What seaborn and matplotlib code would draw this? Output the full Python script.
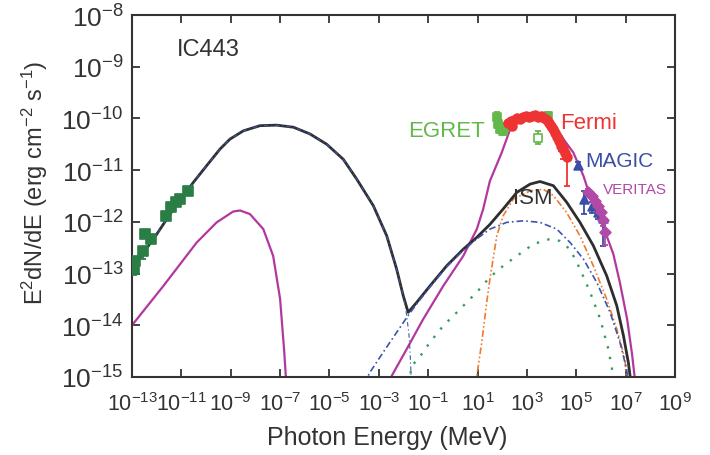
import matplotlib
matplotlib.use("Agg")
import matplotlib.pyplot as plt
import numpy as np
import pandas as pd
import seaborn as sns

# ---------------- data (log10 values) ----------------
# total model: synchrotron + inverse Compton + bremsstrahlung + pi0 (solid dark gray)
total_logE = [-13.00, -12.00, -11.26, -10.52, -9.97, -9.43, -9.03, -8.49, -7.81, -7.14,
              -6.46, -5.79, -5.11, -4.44, -3.90, -3.22, -2.68, -2.28, -2.01, -1.81,
              -1.47, -0.93, -0.25, 0.42, 0.97, 1.50, 2.04, 2.59, 3.13, 3.53,
              4.07, 4.61, 5.15, 5.69, 6.23, 6.64, 6.91, 7.11, 7.18, 7.22]
total_logF = [-12.91, -12.24, -11.71, -11.24, -10.91, -10.59, -10.40, -10.24, -10.14, -10.13,
              -10.17, -10.30, -10.50, -10.79, -11.17, -11.69, -12.27, -12.91, -13.43, -13.75,
              -13.56, -13.24, -12.85, -12.53, -12.30, -12.05, -11.75, -11.43, -11.27, -11.22,
              -11.30, -11.62, -12.01, -12.46, -13.04, -13.62, -14.20, -14.72, -14.98, -15.20]

# synchrotron part of the leptonic component (blue dash-dot)
sync_logE = [-13.00, -12.00, -11.26, -10.52, -9.97, -9.43, -9.03, -8.49, -7.81, -7.14,
             -6.46, -5.79, -5.11, -4.44, -3.90, -3.22, -2.68, -2.28, -2.01, -1.88,
             -1.78, -1.72, -1.68]
sync_logF = [-12.91, -12.24, -11.71, -11.24, -10.91, -10.59, -10.40, -10.24, -10.14, -10.13,
             -10.17, -10.30, -10.50, -10.79, -11.17, -11.69, -12.27, -12.91, -13.43, -13.78,
             -14.17, -14.65, -15.14]

# inverse Compton (blue dash-dot)
ic_logE = [-3.60, -3.36, -2.82, -2.28, -1.87, -1.47, -0.93, -0.25, 0.42, 0.97,
           1.50, 2.18, 2.85, 3.53, 4.21, 4.75, 5.29, 5.83, 6.37, 6.77, 7.04, 7.12]
ic_logF = [-15.14, -14.91, -14.52, -14.14, -13.85, -13.59, -13.26, -12.87, -12.55, -12.33,
           -12.14, -12.01, -11.98, -12.01, -12.14, -12.40, -12.72, -13.17, -13.75, -14.33,
           -14.85, -15.14]

# pi0 decay (orange dash-dot-dot)
pi0_logE = [0.94, 0.97, 1.17, 1.37, 1.50, 1.78, 2.04, 2.45, 3.13, 3.66,
            4.07, 4.61, 5.15, 5.69, 6.23, 6.64, 6.97, 7.05]
pi0_logF = [-15.23, -14.98, -14.33, -13.56, -13.11, -12.27, -11.88, -11.56, -11.40, -11.37,
            -11.49, -11.82, -12.27, -12.85, -13.49, -14.07, -14.65, -15.14]

# bremsstrahlung (green dotted)
brem_logE = [-1.78, -1.67, -1.40, -0.93, -0.39, 0.16, 0.97, 1.50, 2.04, 2.59,
             3.26, 3.94, 4.34, 4.75, 5.15, 5.56, 5.97, 6.30, 6.50, 6.53]
brem_logF = [-15.14, -14.78, -14.65, -14.33, -14.01, -13.75, -13.36, -13.07, -12.85, -12.66,
             -12.43, -12.33, -12.37, -12.53, -12.91, -13.36, -13.88, -14.46, -14.98, -15.14]

# alternative model (magenta solid), low-energy and high-energy humps
mag1_logE = [-13.00, -11.73, -10.38, -9.57, -8.90, -8.62, -8.22, -7.68, -7.28, -7.00,
             -6.84, -6.76, -6.74]
mag1_logF = [-14.00, -13.24, -12.40, -12.01, -11.80, -11.78, -11.85, -12.14, -12.66, -13.49,
             -14.46, -15.04, -15.23]
mag2_logE = [-2.57, -2.48, -1.87, -1.20, -0.39, 0.42, 0.97, 1.23, 1.50, 1.98,
             2.32, 2.64, 3.00, 3.41, 3.81, 4.18, 4.54, 4.88, 5.29, 5.69,
             6.10, 6.50, 6.77, 7.06, 7.26, 7.36, 7.38]
mag2_logF = [-15.23, -14.98, -14.46, -13.88, -13.24, -12.66, -12.14, -11.75, -11.21, -10.66,
             -10.21, -10.03, -9.95, -9.93, -10.01, -10.17, -10.44, -10.66, -11.11, -11.69,
             -12.10, -12.62, -13.18, -13.88, -14.56, -14.98, -15.23]

# radio data (dark green squares)
radio_logE = [-12.92, -12.89, -12.55, -12.49, -12.22, -11.61, -11.42, -11.21, -11.06, -10.73]
radio_logF = [-12.91, -12.76, -12.56, -12.24, -12.33, -11.88, -11.71, -11.62, -11.56, -11.40]
radio_err = [0.12, 0.08, 0.16, 0.05, 0.05, 0.05, 0.05, 0.05, 0.05, 0.05]

# EGRET (light green)
egret_logE = [1.78, 1.84, 1.91, 2.04, 2.11, 3.87]
egret_logF = [-9.98, -10.11, -10.20, -10.24, -10.17, -9.95]
egret_err = [0.10, 0.08, 0.08, 0.08, 0.08, 0.08]
egret_open_logE = [3.46]
egret_open_logF = [-10.37]
egret_open_err = [0.13]

# Fermi (red)
fermi_logE = [2.23, 2.36, 2.40, 2.48, 2.60, 2.72, 2.84, 2.96, 3.09, 3.21, 3.33, 3.45,
              3.57, 3.69, 3.81, 3.90, 3.98, 4.06, 4.14, 4.22, 4.30, 4.38, 4.46, 4.54, 4.62]
fermi_logF = [-10.09, -10.05, -10.15, -10.03, -9.99, -10.01, -9.97, -9.95, -9.97, -9.95,
              -9.93, -9.97, -9.95, -9.99, -10.03, -10.09, -10.15, -10.21, -10.28, -10.36,
              -10.44, -10.53, -10.59, -10.67, -10.75]
fermi_err_lo = [0.04] * 19 + [0.06, 0.07, 0.10, 0.19, 0.12, 0.55]
fermi_err_hi = [0.04] * 19 + [0.06, 0.07, 0.08, 0.10, 0.10, 0.20]

# MAGIC (blue triangles)
magic_logE = [5.08, 5.33, 5.62, 5.87, 6.10]
magic_logF = [-10.90, -11.55, -11.70, -11.80, -11.92]
magic_err_lo = [0.06, 0.30, 0.12, 0.15, 0.55]
magic_err_hi = [0.06, 0.15, 0.08, 0.10, 0.10]

# VERITAS (purple)
veritas_logE = [5.48, 5.64, 5.76, 5.88, 6.00, 6.09, 6.16]
veritas_logF = [-11.42, -11.50, -11.60, -11.69, -11.81, -11.96, -12.20]
veritas_err = [0.06, 0.06, 0.07, 0.08, 0.10, 0.12, 0.25]

# axis ticks
x_tick_exps = [-13, -11, -9, -7, -5, -3, -1, 1, 3, 5, 7, 9]
y_tick_exps = [-15, -14, -13, -12, -11, -10, -9, -8]

# ---------------- style ----------------
sns.set_theme(style="ticks")
plt.rcParams["font.family"] = ["Liberation Sans", "DejaVu Sans"]
plt.rcParams["mathtext.fontset"] = "custom"
plt.rcParams["mathtext.rm"] = "Liberation Sans"
plt.rcParams["mathtext.it"] = "Liberation Sans"
plt.rcParams["mathtext.bf"] = "Liberation Sans:bold"

GRAY = "#333333"
C_TOTAL = "#2e2e2e"
C_MAG = "#b2389f"
C_BLUE = "#3d55b0"
C_ORANGE = "#f07a2e"
C_GREEN = "#3a9a5c"

fig = plt.figure(figsize=(7.10, 4.56), dpi=100)
ax = fig.add_axes([132 / 710, 1 - 378 / 456, 543 / 710, 362 / 456])
ax.set_xscale("log")
ax.set_yscale("log")


def p10(a):
    return np.power(10.0, np.asarray(a, dtype=float))


def curve(le, lf, **kw):
    df = pd.DataFrame({"E": p10(le), "F": p10(lf)})
    sns.lineplot(data=df, x="E", y="F", sort=False, estimator=None, ax=ax, **kw)


# model curves
curve(mag1_logE, mag1_logF, color=C_MAG, lw=1.6)
curve(mag2_logE, mag2_logF, color=C_MAG, lw=1.6)
curve(brem_logE, brem_logF, color=C_GREEN, lw=1.7, linestyle=(0, (1.0, 3.6)))
curve(pi0_logE, pi0_logF, color=C_ORANGE, lw=1.2, linestyle=(0, (4, 1.5, 1, 1.5, 1, 1.5)))
curve(total_logE, total_logF, color=C_TOTAL, lw=2.0)
curve(ic_logE, ic_logF, color=C_BLUE, lw=1.2, linestyle=(0, (4, 1.8, 1, 1.8)))
curve(sync_logE, sync_logF, color=C_BLUE, lw=0.8, linestyle=(0, (4, 2.5, 1, 2.5)))


def points(le, lf, elo, ehi, color, marker, size, face=None, cap=2.5):
    E, F = p10(le), p10(lf)
    lo = F - p10(np.asarray(lf) - np.asarray(elo))
    hi = p10(np.asarray(lf) + np.asarray(ehi)) - F
    ax.errorbar(E, F, yerr=[lo, hi], fmt="none", ecolor=color, elinewidth=1.3,
                capsize=cap, capthick=1.3, zorder=4)
    df = pd.DataFrame({"E": E, "F": F})
    sns.scatterplot(data=df, x="E", y="F", ax=ax, marker=marker, s=size,
                    color=face if face is not None else color,
                    edgecolor=color, linewidth=1.2, zorder=5)


points(radio_logE, radio_logF, radio_err, [0.03] * len(radio_err), "#2a7d45", "s", 42)
points(egret_logE, egret_logF, egret_err, egret_err, "#62b84a", "s", 36)
points(egret_open_logE, egret_open_logF, egret_open_err, egret_open_err, "#62b84a", "s", 30,
       face="white")
points(fermi_logE, fermi_logF, fermi_err_lo, fermi_err_hi, "#ee3333", "o", 40)
points(magic_logE, magic_logF, magic_err_lo, magic_err_hi, "#3b4ea6", "^", 40)
points(veritas_logE, veritas_logF, veritas_err, veritas_err, "#b04aa6", "D", 30)

# labels
ax.text(0.083, 0.906, "IC443", transform=ax.transAxes, fontsize=17, color=GRAY,
        ha="left", va="center")
ax.text(0.650, 0.680, "EGRET", transform=ax.transAxes, fontsize=16, color="#62b84a",
        ha="right", va="center")
ax.text(0.788, 0.704, "Fermi", transform=ax.transAxes, fontsize=16, color="#ee3333",
        ha="left", va="center")
ax.text(0.834, 0.598, "MAGIC", transform=ax.transAxes, fontsize=15, color="#3b4ea6",
        ha="left", va="center")
ax.text(0.867, 0.519, "VERITAS", transform=ax.transAxes, fontsize=11, color="#b04aa6",
        ha="left", va="center")
ax.text(0.702, 0.497, "ISM", transform=ax.transAxes, fontsize=16, color=GRAY,
        ha="left", va="center")

# axes
ax.set_xlim(1e-13, 1e9)
ax.set_ylim(1e-15, 1e-8)
ax.set_xticks([10.0 ** e for e in x_tick_exps])
ax.set_xticklabels([r"$\mathregular{10^{%d}}$" % e for e in x_tick_exps])
ax.set_yticks([10.0 ** e for e in y_tick_exps])
ax.set_yticklabels([r"$\mathregular{10^{%d}}$" % e for e in y_tick_exps])
ax.minorticks_off()
ax.tick_params(axis="both", which="major", direction="in", length=6, width=1.3,
               colors=GRAY, top=True, right=True)
ax.tick_params(axis="x", labelsize=15.5, pad=11)
ax.tick_params(axis="y", labelsize=19, pad=6)
for s in ax.spines.values():
    s.set_visible(True)
    s.set_linewidth(1.5)
    s.set_color(GRAY)

ax.set_xlabel("Photon Energy (MeV)", fontsize=18, color=GRAY)
ax.set_ylabel(r"E$^{2}$dN/dE (erg cm$^{-2}$ s$^{-1}$)", fontsize=17, color=GRAY)
ax.xaxis.set_label_coords((387 - 132) / 543, -(426 - 378) / 362)
ax.yaxis.set_label_coords(-(132 - 50) / 543, 1 - (183 - 16) / 362)

fig.savefig("out.png", dpi=100)
